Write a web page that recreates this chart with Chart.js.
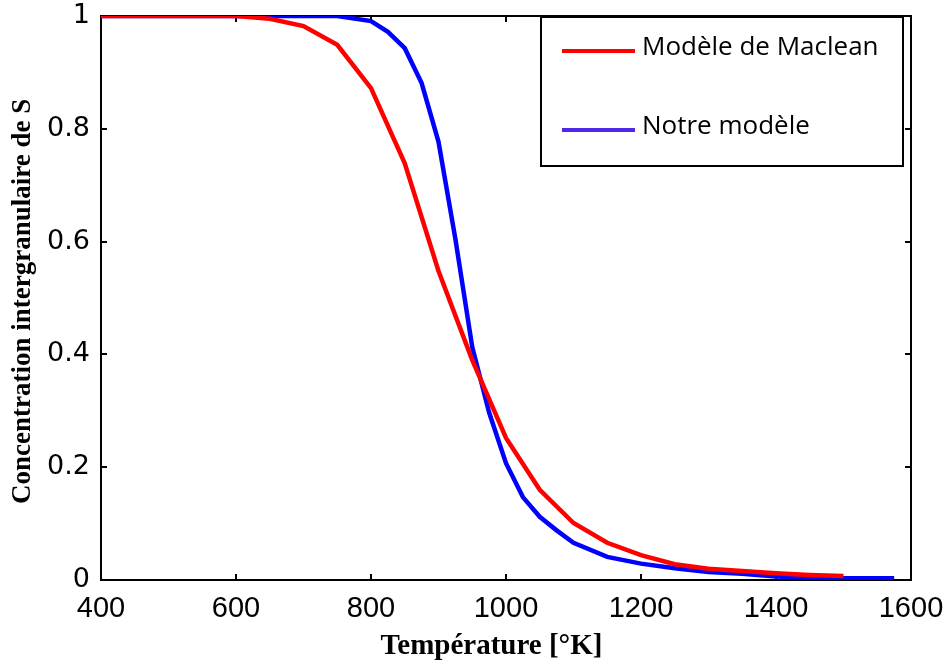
<!DOCTYPE html>
<html>
<head>
<meta charset="utf-8">
<script src="https://cdn.jsdelivr.net/npm/chart.js@4/dist/chart.umd.min.js"></script>
<style>
  html, body { margin: 0; padding: 0; background: #fff; }
  #wrap { width: 952px; height: 668px; }
</style>
</head>
<body>
<div id="wrap"><canvas id="chart" width="952" height="668"></canvas></div>
<script>
// Données
const tempMaclean = [400, 450, 500, 550, 600, 650, 700, 750, 800, 850, 900, 950, 1000, 1050, 1100, 1150, 1200, 1250, 1300, 1350, 1400, 1450, 1500];
const concMaclean = [1, 1, 1, 1, 1, 0.995, 0.982, 0.949, 0.872, 0.739, 0.548, 0.39, 0.252, 0.16, 0.101, 0.066, 0.044, 0.028, 0.02, 0.016, 0.012, 0.009, 0.007];

const tempNotre = [400, 500, 600, 700, 750, 800, 825, 850, 875, 900, 925, 950, 975, 1000, 1025, 1050, 1075, 1100, 1150, 1200, 1250, 1300, 1350, 1400, 1450, 1500, 1575];
const concNotre = [1, 1, 1, 1, 1, 0.991, 0.972, 0.943, 0.881, 0.777, 0.605, 0.413, 0.297, 0.207, 0.147, 0.112, 0.088, 0.066, 0.041, 0.029, 0.021, 0.014, 0.011, 0.006, 0.004, 0.003, 0.003];

const xTicks = [400, 600, 800, 1000, 1200, 1400, 1600];
const yTicks = [0, 0.2, 0.4, 0.6, 0.8, 1];

const toPoints = (xs, ys) => xs.map((x, i) => ({ x: x, y: ys[i] }));

// cadre noir + petites graduations vers l'intérieur (sous les courbes)
const cadre = {
  id: 'cadre',
  beforeDatasetsDraw(chart) {
    const { ctx, chartArea: a, scales } = chart;
    ctx.save();
    ctx.strokeStyle = '#000';
    ctx.lineWidth = 2;
    ctx.strokeRect(a.left, a.top, a.right - a.left, a.bottom - a.top);
    const t = 6;
    xTicks.forEach(v => {
      const px = Math.round(scales.x.getPixelForValue(v));
      ctx.beginPath();
      ctx.moveTo(px, a.bottom); ctx.lineTo(px, a.bottom - t);
      ctx.moveTo(px, a.top); ctx.lineTo(px, a.top + t);
      ctx.stroke();
    });
    yTicks.forEach(v => {
      const py = Math.round(scales.y.getPixelForValue(v));
      ctx.beginPath();
      ctx.moveTo(a.left, py); ctx.lineTo(a.left + t, py);
      ctx.moveTo(a.right, py); ctx.lineTo(a.right - t, py);
      ctx.stroke();
    });
    ctx.restore();
  }
};

// légende encadrée comme dans la figure d'origine
const legende = {
  id: 'legende',
  afterDraw(chart) {
    const { ctx } = chart;
    const box = { x: 541, y: 17, w: 362, h: 149 };
    const rows = [
      { y: 51, color: '#ff0000' },
      { y: 130, color: '#5028e8' }
    ];
    ctx.save();
    ctx.fillStyle = '#fff';
    ctx.fillRect(box.x, box.y, box.w, box.h);
    ctx.strokeStyle = '#000';
    ctx.lineWidth = 2;
    ctx.strokeRect(box.x, box.y, box.w, box.h);
    ctx.font = '26px "Open Sans", sans-serif';
    ctx.textBaseline = 'middle';
    ctx.fillStyle = '#000';
    chart.data.datasets.forEach((ds, i) => {
      const r = rows[i];
      ctx.strokeStyle = r.color;
      ctx.lineWidth = 4;
      ctx.beginPath();
      ctx.moveTo(562, r.y); ctx.lineTo(635, r.y);
      ctx.stroke();
      ctx.fillText(ds.label, 642, r.y - 3);
    });
    ctx.restore();
  }
};

new Chart(document.getElementById('chart'), {
  type: 'line',
  data: {
    datasets: [
      {
        label: 'Modèle de Maclean',
        data: toPoints(tempMaclean, concMaclean),
        borderColor: '#ff0000',
        borderWidth: 4.5,
        pointRadius: 0,
        tension: 0,
        order: 0
      },
      {
        label: 'Notre modèle',
        data: toPoints(tempNotre, concNotre),
        borderColor: '#0000ff',
        borderWidth: 4.5,
        pointRadius: 0,
        tension: 0,
        order: 1
      }
    ]
  },
  options: {
    responsive: false,
    animation: false,
    layout: { padding: { top: 16, right: 41, left: 0, bottom: 0 } },
    plugins: {
      legend: { display: false },
      tooltip: { enabled: false }
    },
    scales: {
      x: {
        type: 'linear',
        min: 400,
        max: 1600,
        afterBuildTicks(scale) { scale.ticks = xTicks.map(v => ({ value: v })); },
        afterFit(scale) {
          scale.height = 88;
          scale.paddingLeft = 0;
          scale.paddingRight = 0;
        },
        border: { display: false },
        grid: { display: false, drawTicks: false },
        ticks: {
          color: '#000',
          padding: 12,
          font: { family: '"Liberation Sans", Arial, sans-serif', size: 29 },
          maxRotation: 0,
          callback: v => String(v)
        },
        title: {
          display: true,
          text: 'Température [°K]    ',
          color: '#000',
          padding: { top: 0, bottom: 4 },
          font: { family: '"Liberation Serif", "Times New Roman", serif', size: 29, weight: 'bold' }
        }
      },
      y: {
        min: 0,
        max: 1,
        afterBuildTicks(scale) { scale.ticks = yTicks.map(v => ({ value: v })); },
        afterFit(scale) {
          scale.width = 101;
          scale.paddingTop = 0;
          scale.paddingBottom = 0;
        },
        border: { display: false },
        grid: { display: false, drawTicks: false },
        ticks: {
          color: '#000',
          padding: 11,
          font: { family: '"DejaVu Sans", sans-serif', size: 27 },
          callback: v => String(v)
        },
        title: {
          display: true,
          text: 'Concentration intergranulaire de S ',
          color: '#000',
          padding: { top: 7, bottom: 0 },
          font: { family: '"Liberation Serif", "Times New Roman", serif', size: 27, weight: 'bold' }
        }
      }
    }
  },
  plugins: [cadre, legende]
});
</script>
</body>
</html>
